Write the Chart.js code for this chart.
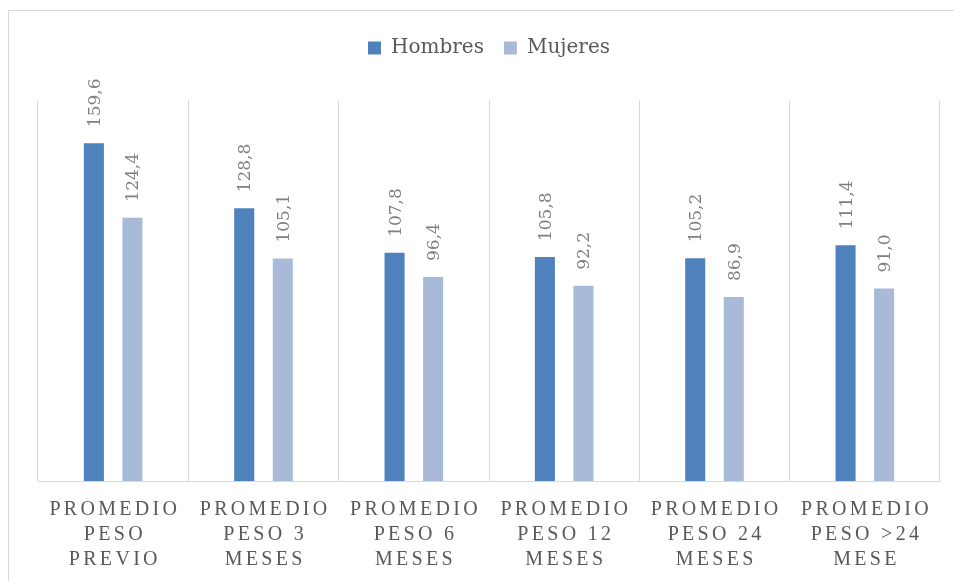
<!DOCTYPE html>
<html lang="es">
<head>
<meta charset="utf-8">
<title>Promedio de peso</title>
<script src="https://cdn.jsdelivr.net/npm/chart.js@4/dist/chart.umd.min.js"></script>
<style>
  html, body { margin: 0; padding: 0; background: #fff; overflow: hidden; }
  #marco {
    position: absolute; left: 8px; top: 10px; width: 980px; height: 620px;
    border: 1px solid #d9d9d9; box-sizing: border-box;
  }
  #grafico { position: absolute; left: 0; top: 0; }
</style>
</head>
<body>
<div id="marco"></div>
<canvas id="grafico" width="954" height="581"></canvas>
<script>
// Datos
const categorias = [
  ["PROMEDIO", "PESO", "PREVIO"],
  ["PROMEDIO", "PESO 3", "MESES"],
  ["PROMEDIO", "PESO 6", "MESES"],
  ["PROMEDIO", "PESO 12", "MESES"],
  ["PROMEDIO", "PESO 24", "MESES"],
  ["PROMEDIO", "PESO >24", "MESE"]
];
const hombres = [159.6, 128.8, 107.8, 105.8, 105.2, 111.4];
const mujeres = [124.4, 105.1, 96.4, 92.2, 86.9, 91.0];

const fuente = "'DejaVu Serif', 'Liberation Serif', serif";
const fuenteEje = "'Liberation Serif', 'DejaVu Serif', serif";
const espaciado = 3.3;

// Etiquetas de valor giradas sobre cada barra
const etiquetasValor = {
  id: "etiquetasValor",
  afterDatasetsDraw(chart) {
    const ctx = chart.ctx;
    ctx.save();
    ctx.font = "17px " + fuente;
    ctx.fillStyle = "#7f7f7f";
    ctx.textAlign = "left";
    ctx.textBaseline = "alphabetic";
    chart.data.datasets.forEach((ds, i) => {
      chart.getDatasetMeta(i).data.forEach((barra, j) => {
        const texto = ds.data[j].toFixed(1).replace(".", ",");
        ctx.save();
        ctx.translate(barra.x, barra.y - 16);
        ctx.rotate(-Math.PI / 2);
        ctx.fillText(texto, 0, 6);
        ctx.restore();
      });
    });
    ctx.restore();
  }
};

// Espaciado de letras en las etiquetas del eje X y hueco bajo la leyenda
const ajustes = {
  id: "ajustes",
  beforeLayout(chart) {
    const lg = chart.legend;
    if (lg && !lg._ajustado) {
      const fit = lg.fit;
      lg.fit = function () { fit.call(this); this.height = 82; };
      lg._ajustado = true;
    }
  },
  afterLayout(chart) {
    const sx = chart.scales.x;
    if (!sx._ajustado) {
      const dibujar = sx.drawLabels;
      sx.drawLabels = function (area) {
        this.ctx.save();
        this.ctx.letterSpacing = espaciado + "px";
        this.ctx.translate(espaciado / 2, 0);
        dibujar.call(this, area);
        this.ctx.restore();
      };
      sx._ajustado = true;
    }
  }
};

new Chart(document.getElementById("grafico"), {
  type: "bar",
  data: {
    labels: categorias,
    datasets: [
      { label: "Hombres", data: hombres, backgroundColor: "#4f81bd" },
      { label: "Mujeres", data: mujeres, backgroundColor: "#a9b9d8" }
    ]
  },
  options: {
    responsive: false,
    animation: false,
    categoryPercentage: 0.513,
    barPercentage: 0.52,
    layout: { padding: { left: 38, right: 14, top: 18, bottom: 0 } },
    plugins: {
      legend: {
        position: "top",
        labels: {
          boxWidth: 13,
          boxHeight: 13,
          padding: 20,
          color: "#595959",
          font: { family: fuente, size: 20 }
        }
      },
      tooltip: { enabled: false }
    },
    scales: {
      x: {
        grid: { color: "#d9d9d9", drawTicks: false },
        border: { color: "#d9d9d9" },
        ticks: {
          color: "#595959",
          font: { family: fuenteEje, size: 20, lineHeight: 25 / 20 },
          padding: 16,
          maxRotation: 0,
          autoSkip: false
        },
        afterFit(scale) { scale.height = 100; }
      },
      y: {
        display: false,
        min: 0,
        max: 180
      }
    }
  },
  plugins: [etiquetasValor, ajustes]
});
</script>
</body>
</html>
